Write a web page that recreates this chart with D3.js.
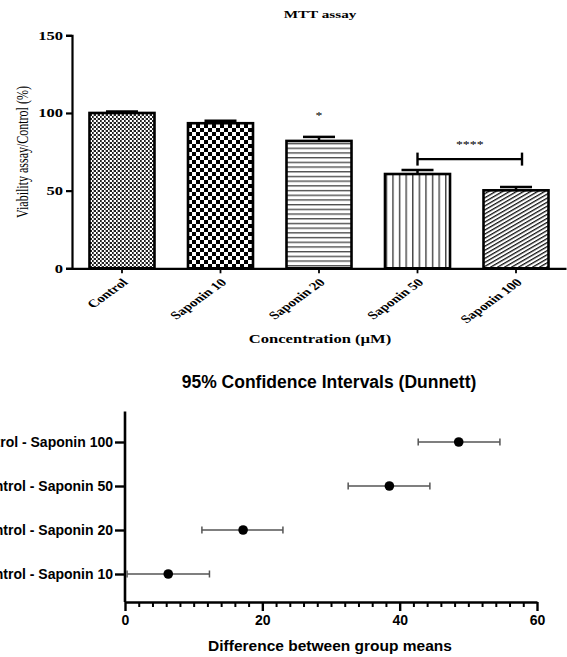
<!DOCTYPE html>
<html lang="en">
<head>
    <meta charset="UTF-8">
    <script src="https://cdnjs.cloudflare.com/ajax/libs/d3/7.8.5/d3.min.js"></script>
    <style>
        body { margin: 0; background: #fff; }
        .serif { font-family: "Liberation Serif", "Times New Roman", serif; }
        .sans { font-family: "Liberation Sans", Arial, sans-serif; }
    </style>
</head>
<body>
    <svg id="chart" width="567" height="657"></svg>
    <script>
        // MTT assay bars
        const groups = ['Control', 'Saponin 10', 'Saponin 20', 'Saponin 50', 'Saponin 100'];
        const viability = [100, 93.4, 82, 60.7, 50.2];
        const viabilityErr = [1, 1.6, 2.6, 2.6, 2.2];
        const yTicks = [0, 50, 100, 150];

        // Dunnett confidence intervals
        const comparisons = ['Control - Saponin 100', 'Control - Saponin 50', 'Control - Saponin 20', 'Control - Saponin 10'];
        const meanDiff = [48.6, 38.5, 17.2, 6.3];
        const ciLow = [42.7, 32.5, 11.2, 0.3];
        const ciHigh = [54.6, 44.4, 23.0, 12.3];
        const ciTicks = [0, 20, 40, 60];

        // the upper panel's text looks stretched sideways
        const SX = 1.38;

        const svg = d3.select('#chart');
        const defs = svg.append('defs');

        // hatch patterns for each bar
        function pat(id, w, h) {
            return defs.append('pattern').attr('id', id)
                .attr('patternUnits', 'userSpaceOnUse')
                .attr('width', w).attr('height', h);
        }
        let p = pat('p0', 4, 4);
        p.append('rect').attr('width', 4).attr('height', 4).attr('fill', '#fff');
        p.append('rect').attr('width', 2).attr('height', 2).attr('fill', '#222');
        p.append('rect').attr('x', 2).attr('y', 2).attr('width', 2).attr('height', 2).attr('fill', '#222');
        p.append('rect').attr('x', 1).attr('width', 0.6).attr('height', 4).attr('fill', '#888');

        p = pat('p1', 8, 8);
        p.append('rect').attr('width', 8).attr('height', 8).attr('fill', '#fff');
        p.append('rect').attr('width', 4).attr('height', 4).attr('fill', '#000');
        p.append('rect').attr('x', 4).attr('y', 4).attr('width', 4).attr('height', 4).attr('fill', '#000');

        p = pat('p2', 10, 4.7);
        p.append('rect').attr('width', 10).attr('height', 4.7).attr('fill', '#fff');
        p.append('rect').attr('y', 2).attr('width', 10).attr('height', 1.2).attr('fill', '#333');

        p = pat('p3', 6.6, 10);
        p.append('rect').attr('width', 6.6).attr('height', 10).attr('fill', '#fff');
        p.append('rect').attr('x', 3).attr('width', 1.2).attr('height', 10).attr('fill', '#222');

        p = pat('p4', 3.5, 3.5).attr('patternTransform', 'rotate(-30)');
        p.append('rect').attr('width', 3.5).attr('height', 3.5).attr('fill', '#fff');
        p.append('rect').attr('width', 3.5).attr('height', 1.3).attr('fill', '#111');

        // ---------- top: bar chart ----------
        const x = d3.scaleBand().domain(groups).range([72, 566])
            .paddingInner(0.34).paddingOuter(0.1775);
        const y = d3.scaleLinear().domain([0, 150]).range([268.3, 35.3]);

        const barG = svg.append('g');

        const bars = barG.selectAll('g.bar').data(groups).enter().append('g');
        bars.append('rect')
            .attr('x', d => x(d))
            .attr('y', (d, i) => y(viability[i]))
            .attr('width', x.bandwidth())
            .attr('height', (d, i) => y(0) - y(viability[i]))
            .attr('fill', (d, i) => `url(#p${i})`)
            .attr('stroke', '#000')
            .attr('stroke-width', 2.6);
        // error bars (upper only)
        bars.append('line')
            .attr('x1', d => x(d) + x.bandwidth() / 2)
            .attr('x2', d => x(d) + x.bandwidth() / 2)
            .attr('y1', (d, i) => y(viability[i]))
            .attr('y2', (d, i) => y(viability[i] + viabilityErr[i]))
            .attr('stroke', '#000').attr('stroke-width', 2.5);
        bars.append('line')
            .attr('x1', d => x(d) + x.bandwidth() / 2 - 16)
            .attr('x2', d => x(d) + x.bandwidth() / 2 + 16)
            .attr('y1', (d, i) => y(viability[i] + viabilityErr[i]))
            .attr('y2', (d, i) => y(viability[i] + viabilityErr[i]))
            .attr('stroke', '#000').attr('stroke-width', 2.5);

        const yAxis = barG.append('g')
            .attr('transform', 'translate(72,0)')
            .call(d3.axisLeft(y).tickValues(yTicks).tickSize(6).tickPadding(4));
        yAxis.selectAll('path, line').attr('stroke', '#000').attr('stroke-width', 2.2);
        yAxis.selectAll('text').attr('class', 'serif')
            .style('font-size', '12px').style('font-weight', 'bold').attr('fill', '#000')
            .attr('x', 0).attr('transform', `translate(-9,0) scale(${SX},1)`);

        const xAxis = barG.append('g')
            .attr('transform', `translate(0,${y(0)})`)
            .call(d3.axisBottom(x).tickSize(5).tickSizeOuter(0));
        xAxis.select('path').attr('stroke', '#000').attr('stroke-width', 2.2);
        xAxis.selectAll('line').attr('stroke', '#000').attr('stroke-width', 1.8);
        xAxis.selectAll('text').attr('class', 'serif')
            .style('font-size', '11px').style('font-weight', 'bold').attr('fill', '#000')
            .attr('text-anchor', 'end')
            .attr('transform', `translate(3,12) scale(${SX},1) rotate(-45)`)
            .attr('dy', '0.35em').attr('y', 0).attr('x', 0);

        // significance marks
        barG.append('text').attr('class', 'serif')
            .attr('transform', `translate(${x('Saponin 20') + x.bandwidth() / 2},${y(96)}) scale(${SX},1)`)
            .attr('text-anchor', 'middle').style('font-size', '10px').text('*');
        const bx1 = x('Saponin 50') + x.bandwidth() / 2;
        const bx2 = x('Saponin 100') + x.bandwidth() / 2 + 6;
        const by = y(70.3);
        barG.append('line').attr('x1', bx1).attr('x2', bx2).attr('y1', by).attr('y2', by)
            .attr('stroke', '#000').attr('stroke-width', 2.2);
        [bx1, bx2].forEach(bx => barG.append('line')
            .attr('x1', bx).attr('x2', bx).attr('y1', by - 6.5).attr('y2', by + 6.5)
            .attr('stroke', '#000').attr('stroke-width', 2.4));
        barG.append('text').attr('class', 'serif')
            .attr('transform', `translate(${(bx1 + bx2) / 2},${by - 11}) scale(${SX},1)`)
            .attr('text-anchor', 'middle').style('font-size', '10px').text('****');

        barG.append('text').attr('class', 'serif')
            .attr('transform', `translate(320,18) scale(${SX},1)`).attr('text-anchor', 'middle')
            .style('font-size', '11px').style('font-weight', 'bold').text('MTT assay');
        barG.append('text').attr('class', 'serif')
            .attr('transform', `translate(28,152) scale(${SX},1) rotate(-90)`).attr('text-anchor', 'middle')
            .style('font-size', '12px').text('Viability assay/Control (%)');
        barG.append('text').attr('class', 'serif')
            .attr('transform', `translate(320,343) scale(${SX},1)`).attr('text-anchor', 'middle')
            .style('font-size', '12px').style('font-weight', 'bold').text('Concentration (µM)');

        // ---------- bottom: confidence intervals ----------
        const cx = d3.scaleLinear().domain([0, 60]).range([125, 537]);
        const cy = d3.scalePoint().domain(comparisons).range([442, 574]);
        const axisBottomY = 602;

        const ciG = svg.append('g');

        const cyAxis = ciG.append('g')
            .attr('transform', 'translate(125,0)')
            .call(d3.axisLeft(cy).tickSize(10).tickPadding(2).tickSizeOuter(0));
        cyAxis.select('path').attr('d', `M0,411.5V${axisBottomY}`)
            .attr('stroke', '#000').attr('stroke-width', 2.6);
        cyAxis.selectAll('line').attr('stroke', '#000').attr('stroke-width', 2.4);
        cyAxis.selectAll('text').attr('class', 'sans')
            .style('font-size', '14px').style('font-weight', 'bold').attr('fill', '#000');

        const minor = d3.range(0, 61, 2).filter(v => v % 20 !== 0);
        ciG.append('g')
            .attr('transform', `translate(0,${axisBottomY})`)
            .call(d3.axisBottom(cx).tickValues(minor).tickSize(5).tickFormat(''))
            .call(g => g.select('path').remove())
            .selectAll('line').attr('stroke', '#000').attr('stroke-width', 2);
        const cxAxis = ciG.append('g')
            .attr('transform', `translate(0,${axisBottomY})`)
            .call(d3.axisBottom(cx).tickValues(ciTicks).tickSize(9).tickSizeOuter(0).tickPadding(4));
        cxAxis.select('path').attr('stroke', '#000').attr('stroke-width', 2.6);
        cxAxis.selectAll('line').attr('stroke', '#000').attr('stroke-width', 2.4);
        cxAxis.selectAll('text').attr('class', 'sans')
            .style('font-size', '14px').style('font-weight', 'bold').attr('fill', '#000');

        const rows = ciG.selectAll('g.ci').data(comparisons).enter().append('g')
            .attr('transform', d => `translate(0,${cy(d)})`);
        rows.append('line')
            .attr('x1', (d, i) => cx(ciLow[i])).attr('x2', (d, i) => cx(ciHigh[i]))
            .attr('stroke', '#555').attr('stroke-width', 1.5);
        rows.append('line')
            .attr('x1', (d, i) => cx(ciLow[i])).attr('x2', (d, i) => cx(ciLow[i]))
            .attr('y1', -3.5).attr('y2', 3.5).attr('stroke', '#555').attr('stroke-width', 1.5);
        rows.append('line')
            .attr('x1', (d, i) => cx(ciHigh[i])).attr('x2', (d, i) => cx(ciHigh[i]))
            .attr('y1', -3.5).attr('y2', 3.5).attr('stroke', '#555').attr('stroke-width', 1.5);
        rows.append('circle')
            .attr('cx', (d, i) => cx(meanDiff[i])).attr('r', 4.8).attr('fill', '#000');

        ciG.append('text').attr('class', 'sans')
            .attr('x', 329).attr('y', 388).attr('text-anchor', 'middle')
            .style('font-size', '17.5px').style('font-weight', 'bold')
            .text('95% Confidence Intervals (Dunnett)');
        ciG.append('text').attr('class', 'sans')
            .attr('x', 330).attr('y', 651).attr('text-anchor', 'middle')
            .style('font-size', '15.5px').style('font-weight', 'bold')
            .text('Difference between group means');
    </script>
</body>
</html>
